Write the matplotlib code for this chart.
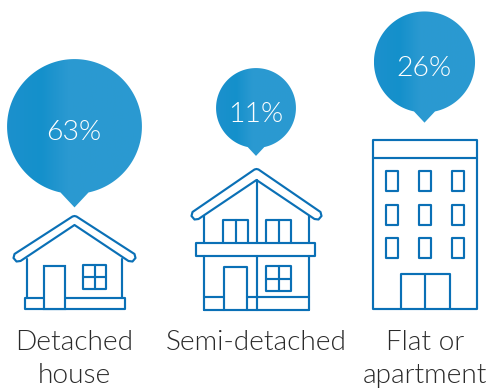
import numpy as np
import matplotlib
matplotlib.use("Agg")
import matplotlib.pyplot as plt
from matplotlib.colors import LinearSegmentedColormap
from matplotlib.patches import Polygon, Rectangle

# Data
categories = ["Detached\nhouse", "Semi-detached", "Flat or\napartment"]
shares = [63, 11, 26]

plt.rcParams['font.family'] = ['Lato', 'DejaVu Sans']

BLUE = '#0a70b6'
LW = 1.55

fig = plt.figure(figsize=(4.9, 3.89), dpi=100)
ax = fig.add_axes([0, 0, 1, 1])
ax.set_xlim(0, 490)
ax.set_ylim(389, 0)
ax.axis('off')

bubble_cmap = LinearSegmentedColormap.from_list(
    'bubble',
    [(0, '#1c91cd'), (0.25, '#1490cb'), (0.45, '#2a99d1'), (1, '#2b9ad1')]
)


def bubble_radius(value):
    return 20.2 + 5.95 * np.sqrt(value)


def draw_bubble(cx, cy, value):
    r = bubble_radius(value)
    # circle with a pointer at the bottom
    neck = np.radians(12)
    angles = np.linspace(np.pi / 2 + neck, 2.5 * np.pi - neck, 200)
    xs = cx + r * np.cos(angles)
    ys = cy + r * np.sin(angles)
    pts = np.column_stack([xs, ys])
    pts = np.vstack([pts, [cx, cy + 1.2 * r]])
    clip = Polygon(pts, closed=True, transform=ax.transData, facecolor='none', edgecolor='none')
    ax.add_patch(clip)
    im = ax.imshow(
        np.linspace(0, 1, 256).reshape(1, -1),
        cmap=bubble_cmap,
        extent=[cx - r, cx + r, cy + 1.3 * r, cy - r],
        aspect='auto',
        zorder=2,
        vmin=0,
        vmax=1,
    )
    im.set_clip_path(clip)
    ax.text(cx - 0.5, cy + 6, f"{value}%", color='white', fontsize=20.5, fontweight=300,
            ha='center', va='center', zorder=3)


def line(xs, ys):
    ax.plot(xs, ys, color=BLUE, lw=LW, solid_capstyle='round', solid_joinstyle='round', zorder=1)


def box(x0, y0, x1, y1):
    ax.add_patch(Rectangle((x0, y0), x1 - x0, y1 - y0, fill=False, edgecolor=BLUE,
                           lw=LW, joinstyle='round', zorder=1))


def roof(peak_x, outer_y, inner_y, half_w, tip_y):
    # band with rounded ends
    verts = [
        (peak_x - half_w + 3, tip_y + 4.5),
        (peak_x - half_w, tip_y + 1),
        (peak_x - half_w + 1, tip_y - 3),
        (peak_x - 2, outer_y + 0.5),
        (peak_x, outer_y),
        (peak_x + 2, outer_y + 0.5),
        (peak_x + half_w - 1, tip_y - 3),
        (peak_x + half_w, tip_y + 1),
        (peak_x + half_w - 3, tip_y + 4.5),
        (peak_x + half_w - 7, tip_y + 4),
        (peak_x, inner_y),
        (peak_x - half_w + 7, tip_y + 4),
    ]
    ax.add_patch(Polygon(verts, closed=True, fill=False, edgecolor=BLUE, lw=LW,
                         joinstyle='round', zorder=1))


def window(x0, y0, x1, y1):
    box(x0, y0, x1, y1)
    line([(x0 + x1) / 2] * 2, [y0, y1])
    line([x0, x1], [(y0 + y1) / 2] * 2)


# Detached house
draw_bubble(74.5, 126.5, shares[0])
roof(74.5, 216, 225, 61, 257)
line([27, 27], [259, 298])
line([122, 122], [259, 298])
box(25, 298, 125, 309)
ax.add_patch(Rectangle((44, 266), 21, 43, facecolor='white', edgecolor=BLUE, lw=LW, zorder=1.5))
window(83, 265, 106, 289)

# Semi-detached house
draw_bubble(256, 108, shares[1])
roof(256.5, 169, 180, 65, 215)
line([204, 204], [216, 243])
line([309, 309], [216, 243])
line([204, 204], [256, 310])
line([309, 309], [256, 310])
line([204, 309], [310, 310])
box(196, 243, 315, 256)
line([256.5, 256.5], [180, 243])
line([256.5, 256.5], [256, 310])
line([223, 223, 248, 248], [243, 220, 220, 243])
line([236, 236], [220, 243])
line([266, 266, 291, 291], [243, 220, 220, 243])
line([279, 279], [220, 243])
line([224, 224, 247, 247], [310, 267, 267, 310])
window(266, 266, 291, 291)
line([204, 224], [297, 297])
line([247, 309], [297, 297])

# Flat or apartment
draw_bubble(424.5, 62, shares[2])
box(373, 140, 477, 309)
line([373, 477], [158, 158])
for wx in [386, 419, 452]:
    for wy in [171, 205, 238]:
        box(wx, wy, wx + 12, wy + 20)
line([401, 401, 450, 450], [309, 274, 274, 309])
line([425, 425], [274, 309])

# Labels under each icon
label_x = [74, 256, 425]
for x, name in zip(label_x, categories):
    ax.text(x, 330.5, name, color='#2a2a2a', fontsize=20.2, fontweight=300,
            ha='center', va='top', linespacing=1.36)

fig.savefig('out.png', dpi=100)
